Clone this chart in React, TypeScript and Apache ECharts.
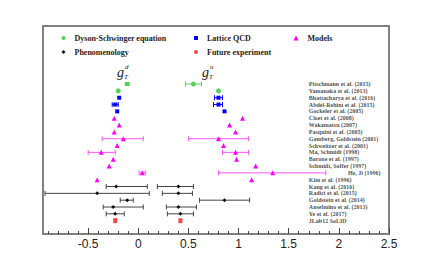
import React, { useEffect, useRef } from "react";
import * as echarts from "echarts";

// Row labels (top to bottom)
const rowNames = [
  "Pitschmann et al. (2015)",
  "Yamanaka et al. (2013)",
  "Bhattacharya et al. (2016)",
  "Abdel-Rehim et al. (2015)",
  "Gockeler et al. (2005)",
  "Cloet et al. (2008)",
  "Wakamatsu (2007)",
  "Pasquini et al. (2005)",
  "Gamberg, Goldstein (2001)",
  "Schweitzer et al. (2001)",
  "Ma, Schmidt (1998)",
  "Barone et al. (1997)",
  "Schmidt, Soffer (1997)",
  "He, Ji (1996)",
  "Kim et al. (1996)",
  "Kang et al. (2016)",
  "Radici et al. (2015)",
  "Goldstein et al. (2014)",
  "Anselmino et al. (2013)",
  "Ye et al. (2017)",
  "JLab12 SoLID",
];
const labelX = [
  1.7, 1.7, 1.7, 1.7, 1.7, 1.7, 1.7, 1.7, 1.7, 1.7, 1.7, 1.7, 1.7, 2.09, 1.7,
  1.7, 1.7, 1.7, 1.7, 1.7, 1.7,
];

// central values g_T^d and g_T^u per row
const gd = [-0.11, -0.2, -0.19, -0.23, -0.21, -0.24, -0.19, -0.24, -0.15, -0.21, -0.37, -0.25, -0.29, 0.04, -0.41, -0.22, -0.41, -0.11, -0.25, -0.23, -0.23];
const gu = [0.55, 0.8, 0.8, 0.8, 0.86, 1.04, 0.91, 0.97, 0.8, 0.85, 0.97, 0.98, 1.17, 1.34, 1.13, 0.4, 0.4, 0.86, 0.4, 0.42, 0.42];

// error bars: [low, high, row]
const errDSE = [[0.47, 0.63, 0]];
const errLQCD = [[-0.26, -0.2, 3], [0.76, 0.84, 2], [0.75, 0.84, 3]];
const errModels = [[-0.36, 0.05, 8], [0.5, 1.1, 8], [-0.5, -0.23, 10], [0.84, 1.1, 10], [0.01, 0.07, 13], [0.8, 1.87, 13]];
const errPheno = [
  [-0.32, 0.09, 15], [0.19, 0.55, 15],
  [-0.93, 0.11, 16], [0.24, 0.54, 16],
  [-0.18, -0.05, 17], [0.61, 1.11, 17],
  [-0.35, 0.05, 18], [0.28, 0.58, 18],
  [-0.32, -0.14, 19], [0.29, 0.55, 19],
];

const rowsDSE = [0, 1];
const rowsLQCD = [2, 3, 4];
const rowsModels = [5, 6, 7, 8, 9, 10, 11, 12, 13, 14];
const rowsPheno = [15, 16, 17, 18, 19];
const rowsFuture = [20];

const xTicks = [-0.5, 0, 0.5, 1, 1.5, 2, 2.5];
const xMinorTicks = [-0.9, -0.8, -0.7, -0.6, -0.4, -0.3, -0.2, -0.1, 0.1, 0.2, 0.3, 0.4, 0.6, 0.7, 0.8, 0.9, 1.1, 1.2, 1.3, 1.4, 1.6, 1.7, 1.8, 1.9, 2.1, 2.2, 2.3, 2.4];

const C_DSE = "#55d155";
const C_LQCD = "#0000ff";
const C_MOD = "#ff00ff";
const C_MOD_ERR = "#ff55ff";
const C_PHEN = "#111111";
const C_PHEN_ERR = "#444444";
const C_FUT = "#ff4444";

const serif = '"Liberation Serif", "DejaVu Serif", serif';

function pts(rows: number[], vals: number[]) {
  return rows.map((r) => [vals[r], r]);
}

function errSeries(name: string, data: number[][], color: string) {
  return {
    type: "custom",
    name,
    data,
    z: 2,
    encode: { x: [0, 1], y: 2 },
    renderItem: (_p: any, api: any) => {
      const y = api.value(2);
      const a = api.coord([api.value(0), y]);
      const b = api.coord([api.value(1), y]);
      const h = 2.5;
      const style = { stroke: color, lineWidth: 1 };
      return {
        type: "group",
        children: [
          { type: "line", shape: { x1: a[0], y1: a[1], x2: b[0], y2: b[1] }, style },
          { type: "line", shape: { x1: a[0], y1: a[1] - h, x2: a[0], y2: a[1] + h }, style },
          { type: "line", shape: { x1: b[0], y1: b[1] - h, x2: b[0], y2: b[1] + h }, style },
        ],
      };
    },
  };
}

function legendAt(name: string, icon: string, left: number, top: number, size: number) {
  return {
    data: [{ name, icon }],
    left,
    top,
    padding: 0,
    itemWidth: size,
    itemHeight: size,
    selectedMode: false,
    textStyle: { fontFamily: serif, fontWeight: "bold", fontSize: 8, color: "#222", padding: [0, 0, 0, 4] },
  };
}

function gLabel(x: number, sup: string) {
  return [
    { type: "text", x, y: 72, style: { text: "g", font: `italic 14px ${serif}`, fill: "#222", verticalAlign: "middle", align: "left" } },
    { type: "text", x: x + 8, y: 67, style: { text: sup, font: `italic 7px ${serif}`, fill: "#222", verticalAlign: "middle", align: "left" } },
    { type: "text", x: x + 7, y: 77, style: { text: "T", font: `italic 7px ${serif}`, fill: "#222", verticalAlign: "middle", align: "left" } },
  ];
}

export default function App() {
  const ref = useRef<HTMLDivElement>(null);
  useEffect(() => {
    if (!ref.current) return;
    const chart = echarts.init(ref.current, null, { renderer: "svg" });
    const dseData = pts(rowsDSE, gd)
      .map((p, i) => (i === 0 ? { value: p, symbol: "rect", symbolSize: [5, 4] } : { value: p }))
      .concat(pts(rowsDSE, gu).map((p) => ({ value: p })));
    chart.setOption({
      animation: false,
      grid: {
        left: 43,
        right: 43,
        top: 26,
        bottom: 27,
        show: true,
        borderColor: "#808080",
        borderWidth: 2,
        backgroundColor: "transparent",
      },
      xAxis: [
        {
          type: "value",
          min: -0.95,
          max: 2.5,
          position: "bottom",
          axisLine: { show: false, onZero: false },
          splitLine: { show: false },
          axisTick: { show: true, inside: true, length: 6, customValues: xTicks, lineStyle: { color: "#444" } },
          axisLabel: {
            customValues: xTicks,
            fontFamily: '"Liberation Sans", Arial, sans-serif',
            fontSize: 12,
            color: "#222",
            margin: 4,
          },
        },
        {
          type: "value",
          min: -0.95,
          max: 2.5,
          position: "bottom",
          offset: 0,
          axisLine: { show: false, onZero: false },
          splitLine: { show: false },
          axisTick: { show: true, inside: true, length: 3, customValues: xMinorTicks, lineStyle: { color: "#444" } },
          axisLabel: { show: false },
        },
      ],
      yAxis: {
        type: "value",
        inverse: true,
        min: -8.5,
        max: 21.95,
        show: false,
        axisLine: { onZero: false },
      },
      legend: [
        legendAt("Dyson-Schwinger equation", "circle", 61.5, 34, 4),
        legendAt("Lattice QCD", "rect", 194, 34, 4),
        legendAt("Models", "triangle", 293.5, 34, 5),
        legendAt("Phenomenology", "diamond", 61.5, 48, 4),
        legendAt("Future experiment", "circle", 194, 48, 4),
      ],
      graphic: [...gLabel(117, "d"), ...gLabel(202, "u")],
      series: [
        errSeries("errDSE", errDSE, C_DSE),
        errSeries("errLQCD", errLQCD, C_LQCD),
        errSeries("errModels", errModels, C_MOD_ERR),
        errSeries("errPheno", errPheno, C_PHEN_ERR),
        {
          type: "scatter",
          name: "Dyson-Schwinger equation",
          data: dseData,
          symbol: "circle",
          symbolSize: 5,
          itemStyle: { color: C_DSE, opacity: 1 },
          z: 3,
        },
        {
          type: "scatter",
          name: "Lattice QCD",
          data: pts(rowsLQCD, gd).concat(pts(rowsLQCD, gu)),
          symbol: "rect",
          symbolSize: 4,
          itemStyle: { color: C_LQCD, opacity: 1 },
          z: 3,
        },
        {
          type: "scatter",
          name: "Models",
          data: pts(rowsModels, gd).concat(pts(rowsModels, gu)),
          symbol: "triangle",
          symbolSize: 5,
          itemStyle: { color: C_MOD, opacity: 1 },
          z: 3,
        },
        {
          type: "scatter",
          name: "Phenomenology",
          data: pts(rowsPheno, gd).concat(pts(rowsPheno, gu)),
          symbol: "diamond",
          symbolSize: 4,
          itemStyle: { color: C_PHEN, opacity: 1 },
          z: 3,
        },
        {
          type: "scatter",
          name: "Future experiment",
          data: pts(rowsFuture, gd).concat(pts(rowsFuture, gu)),
          symbol: "rect",
          symbolSize: [4, 5],
          itemStyle: { color: C_FUT, opacity: 1 },
          z: 3,
        },
        {
          type: "scatter",
          name: "rowLabels",
          data: rowNames.map((n, i) => ({ value: [labelX[i], i], name: n })),
          symbol: "circle",
          symbolSize: 0.1,
          itemStyle: { color: "transparent" },
          silent: true,
          label: {
            show: true,
            position: "right",
            distance: 0,
            formatter: (p: any) => p.name,
            fontFamily: serif,
            fontWeight: "bold",
            fontSize: 6,
            color: "#222",
          },
          z: 4,
        },
      ],
    });
    return () => chart.dispose();
  }, []);
  return (
    <div
      ref={ref}
      style={{ position: "fixed", left: 0, top: 0, width: 432, height: 261, background: "#fff" }}
    />
  );
}
